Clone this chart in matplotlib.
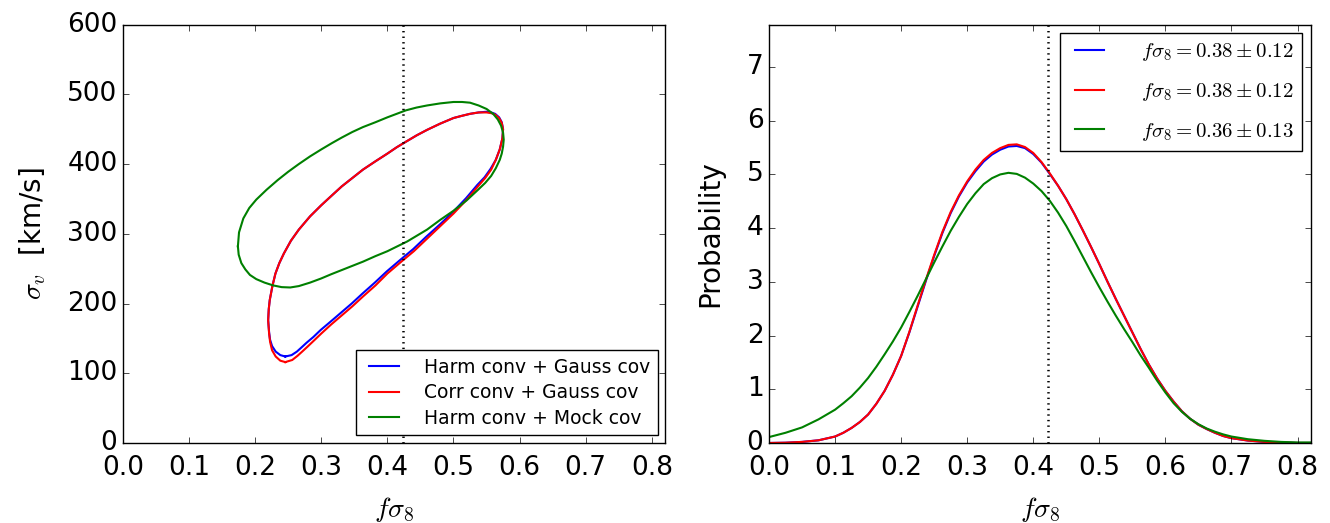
import matplotlib
matplotlib.use("Agg")
import matplotlib.pyplot as plt
import numpy as np

# ---- left panel: contours in (f sigma_8, sigma_v) ----
harm_gauss_x = [0.2455, 0.238, 0.231, 0.2255, 0.2225, 0.221, 0.2196, 0.2205, 0.222, 0.226, 0.2306, 0.2365,
                0.2435, 0.254, 0.266, 0.283, 0.300, 0.316, 0.331, 0.347, 0.363, 0.382, 0.400, 0.414,
                0.428, 0.444, 0.460, 0.480, 0.500, 0.512, 0.525, 0.538, 0.550, 0.557, 0.563, 0.569,
                0.573, 0.575, 0.574, 0.570, 0.564, 0.556, 0.547, 0.536, 0.519, 0.499, 0.479, 0.459,
                0.439, 0.420, 0.399, 0.381, 0.362, 0.346, 0.330, 0.314, 0.299, 0.288, 0.278, 0.270,
                0.263, 0.255, 0.2455]
harm_gauss_y = [124, 126, 131, 139, 148, 159, 176, 192, 205, 225, 243, 258,
                272, 290, 306, 325, 341, 355, 368, 380, 392, 404, 415, 424,
                432, 441, 449, 458, 466, 469, 472, 474, 475, 474, 472, 467,
                460, 450, 437, 421, 406, 393, 381, 370, 351, 331, 313, 296,
                278, 263, 246, 230, 214, 200, 187, 174, 162, 152, 144, 137,
                131, 126, 124]

corr_gauss_x = [0.2455, 0.238, 0.231, 0.2255, 0.2225, 0.221, 0.2196, 0.2205, 0.222, 0.226, 0.2306, 0.2365,
                0.2435, 0.254, 0.266, 0.283, 0.300, 0.316, 0.331, 0.347, 0.363, 0.382, 0.400, 0.414,
                0.428, 0.444, 0.460, 0.480, 0.500, 0.512, 0.525, 0.538, 0.550, 0.557, 0.563, 0.569,
                0.573, 0.575, 0.574, 0.570, 0.564, 0.557, 0.548, 0.537, 0.520, 0.500, 0.480, 0.460,
                0.440, 0.421, 0.400, 0.382, 0.363, 0.347, 0.331, 0.315, 0.300, 0.289, 0.279, 0.271,
                0.264, 0.256, 0.2455]
corr_gauss_y = [116, 118, 124, 133, 145, 157, 176, 192, 205, 225, 243, 258,
                272, 290, 306, 325, 341, 355, 368, 380, 392, 404, 415, 424,
                432, 441, 449, 458, 466, 469, 472, 474, 474, 473, 471, 466,
                459, 450, 437, 421, 406, 392, 380, 368, 349, 329, 311, 293,
                275, 260, 243, 226, 210, 196, 183, 170, 157, 147, 138, 131,
                125, 119, 116]

harm_mock_x = [0.1738, 0.1755, 0.182, 0.191, 0.2016, 0.217, 0.234, 0.250, 0.266, 0.283, 0.300, 0.316,
               0.331, 0.347, 0.363, 0.382, 0.400, 0.414, 0.428, 0.444, 0.460, 0.480, 0.500, 0.513,
               0.525, 0.538, 0.550, 0.560, 0.567, 0.572, 0.575, 0.576, 0.575, 0.573, 0.570, 0.564,
               0.557, 0.548, 0.537, 0.520, 0.500, 0.480, 0.460, 0.430, 0.400, 0.382, 0.363, 0.347,
               0.331, 0.315, 0.300, 0.283, 0.266, 0.253, 0.240, 0.227, 0.214, 0.2016, 0.192, 0.185,
               0.179, 0.175, 0.1738]
harm_mock_y = [282, 302, 322, 337, 349, 363, 377, 389, 400, 411, 421, 430,
               438, 446, 453, 460, 467, 472, 477, 481, 484, 487, 489, 489,
               488, 484, 479, 472, 464, 455, 445, 435, 425, 415, 406, 394,
               383, 373, 363, 348, 333, 320, 306, 289, 275, 268, 260, 254,
               248, 242, 236, 230, 225, 223, 223.5, 226, 230, 235, 241, 249,
               258, 270, 282]

# ---- right panel: marginalised f sigma_8 posterior ----
fs8_grid = [0.0, 0.025, 0.05, 0.075, 0.1,
            0.1125, 0.125, 0.1375, 0.15, 0.1625, 0.175, 0.1875, 0.2,
            0.2125, 0.225, 0.2375, 0.25, 0.2625, 0.275, 0.2875, 0.3,
            0.3125, 0.325, 0.3375, 0.35, 0.3625, 0.375, 0.3875, 0.4,
            0.4125, 0.425, 0.4375, 0.45, 0.4625, 0.475, 0.4875, 0.5,
            0.5125, 0.525, 0.5375, 0.55, 0.5625, 0.575, 0.5875, 0.6,
            0.6125, 0.625, 0.6375, 0.65, 0.6625, 0.675, 0.6875, 0.7,
            0.725, 0.75, 0.775, 0.8, 0.82]
prob_harm_gauss = [0.0, 0.005, 0.02, 0.05, 0.12,
                   0.19, 0.28, 0.39, 0.53, 0.73, 0.97, 1.27, 1.62,
                   2.06, 2.54, 3.02, 3.48, 3.91, 4.28, 4.59, 4.85,
                   5.06, 5.24, 5.37, 5.46, 5.52, 5.53, 5.49, 5.38,
                   5.22, 5.01, 4.79, 4.54, 4.26, 3.96, 3.65, 3.33,
                   3.00, 2.68, 2.37, 2.06, 1.75, 1.46, 1.20, 0.97,
                   0.77, 0.59, 0.45, 0.34, 0.26, 0.19, 0.13, 0.09,
                   0.045, 0.02, 0.01, 0.0, 0.0]
prob_corr_gauss = [0.0, 0.005, 0.02, 0.05, 0.12,
                   0.19, 0.28, 0.39, 0.53, 0.73, 0.97, 1.27, 1.62,
                   2.07, 2.56, 3.04, 3.50, 3.93, 4.30, 4.61, 4.87,
                   5.09, 5.27, 5.40, 5.49, 5.55, 5.56, 5.51, 5.40,
                   5.23, 5.02, 4.79, 4.54, 4.26, 3.96, 3.65, 3.33,
                   3.00, 2.68, 2.37, 2.06, 1.75, 1.46, 1.20, 0.97,
                   0.77, 0.59, 0.45, 0.34, 0.26, 0.19, 0.13, 0.09,
                   0.045, 0.02, 0.01, 0.0, 0.0]
prob_harm_mock = [0.11, 0.19, 0.29, 0.44, 0.62,
                  0.74, 0.87, 1.03, 1.21, 1.42, 1.65, 1.89, 2.15,
                  2.44, 2.74, 3.05, 3.36, 3.66, 3.95, 4.21, 4.45,
                  4.65, 4.82, 4.93, 5.00, 5.03, 5.01, 4.94, 4.83,
                  4.69, 4.51, 4.29, 4.04, 3.76, 3.47, 3.18, 2.90,
                  2.63, 2.37, 2.12, 1.88, 1.63, 1.40, 1.16, 0.94,
                  0.74, 0.58, 0.45, 0.35, 0.27, 0.21, 0.16, 0.12,
                  0.07, 0.04, 0.02, 0.01, 0.01]

fid_fs8 = 0.423

labels_left = ["Harm conv + Gauss cov", "Corr conv + Gauss cov", "Harm conv + Mock cov"]
labels_right = [r"$f\sigma_8=0.38\pm0.12$", r"$f\sigma_8=0.38\pm0.12$", r"$f\sigma_8=0.36\pm0.13$"]
colors = ["b", "r", "g"]

plt.style.use("classic")
plt.rcParams["figure.facecolor"] = "white"
plt.rcParams["savefig.facecolor"] = "white"
plt.rcParams["mathtext.fontset"] = "cm"

fig = plt.figure(figsize=(13.3, 5.23), dpi=100)
ax1 = fig.add_axes([0.0925, 0.153, 0.4075, 0.800])
ax2 = fig.add_axes([0.5782, 0.153, 0.4073, 0.800])

# left panel
ax1.plot(harm_gauss_x, harm_gauss_y, color=colors[0], lw=1.5, label=labels_left[0])
ax1.plot(corr_gauss_x, corr_gauss_y, color=colors[1], lw=1.5, label=labels_left[1])
ax1.plot(harm_mock_x, harm_mock_y, color=colors[2], lw=1.5, label=labels_left[2])
ax1.axvline(fid_fs8, color="k", ls=":", lw=1.8)
ax1.set_xlim(0, 0.82)
ax1.set_ylim(0, 600)
ax1.set_xticks(np.arange(0, 0.81, 0.1))
ax1.set_yticks(np.arange(0, 601, 100))
ax1.set_xlabel(r"$f\sigma_8$", fontsize=20, labelpad=10)
ax1.set_ylabel(r"$\sigma_v$  [km/s]", fontsize=20, labelpad=14)
ax1.tick_params(labelsize=19)
ax1.tick_params(axis="x", pad=9)
ax1.legend(loc="lower right", fontsize=13.5, handlelength=2.2, borderaxespad=0.4,
           labelspacing=0.35, handletextpad=1.0)

# right panel
ax2.plot(fs8_grid, prob_harm_gauss, color=colors[0], lw=1.5, label=labels_right[0])
ax2.plot(fs8_grid, prob_corr_gauss, color=colors[1], lw=1.5, label=labels_right[1])
ax2.plot(fs8_grid, prob_harm_mock, color=colors[2], lw=1.5, label=labels_right[2])
ax2.axvline(fid_fs8, color="k", ls=":", lw=1.8)
ax2.set_xlim(0, 0.82)
ax2.set_ylim(0, 7.79)
ax2.set_xticks(np.arange(0, 0.81, 0.1))
ax2.set_yticks(np.arange(0, 8, 1))
ax2.set_xlabel(r"$f\sigma_8$", fontsize=20, labelpad=10)
ax2.set_ylabel("Probability", fontsize=20, labelpad=16)
ax2.tick_params(labelsize=19)
ax2.tick_params(axis="x", pad=9)
ax2.legend(loc="upper right", fontsize=15, handlelength=2.0, borderaxespad=0.4,
           labelspacing=0.85, handletextpad=1.5)

fig.savefig("out.png", dpi=100)
